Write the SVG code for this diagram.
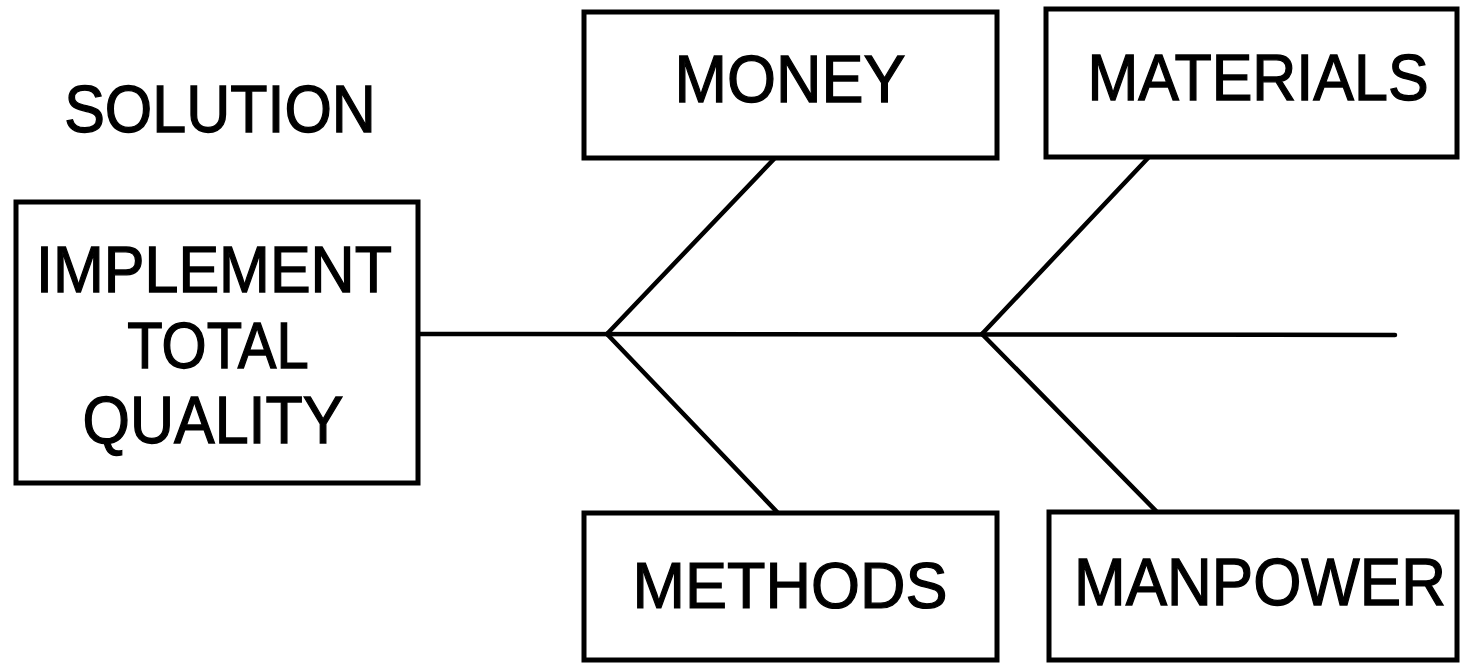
<svg xmlns="http://www.w3.org/2000/svg" width="1463" height="664" viewBox="0 0 1463 664">
<style>
.box{fill:#fff;stroke:#000;stroke-width:5}
.ln{stroke:#000;stroke-width:4.5;fill:none;stroke-linecap:round}
.t{font-family:"Liberation Sans",Arial,sans-serif;fill:#000;stroke:#000;stroke-width:1.2;text-anchor:middle}
</style>
<rect width="1463" height="664" fill="#fff"/>
<g id="connectors">
<line class="ln" x1="418" y1="334" x2="1395" y2="335"/>
<line class="ln" x1="607" y1="334" x2="774" y2="159"/>
<line class="ln" x1="607" y1="334" x2="778" y2="513"/>
<line class="ln" x1="982" y1="334" x2="1148" y2="158"/>
<line class="ln" x1="982" y1="334" x2="1157" y2="512"/>
</g>
<g id="solution-label">
<text class="t" transform="translate(220,132) scale(1,1.08)" font-size="61">SOLUTION</text>
</g>
<g id="implement">
<rect class="box" x="16" y="202" width="402" height="281"/>
<text class="t" transform="translate(214,292) scale(1,1.05)" font-size="61">IMPLEMENT</text>
<text class="t" transform="translate(218,368) scale(1,1.12)" font-size="58">TOTAL</text>
<text class="t" transform="translate(213,443) scale(1,1.08)" font-size="61">QUALITY</text>
</g>
<g id="money">
<rect class="box" x="584" y="12" width="413" height="146"/>
<text class="t" transform="translate(790,102) scale(1,1.05)" font-size="63">MONEY</text>
</g>
<g id="materials">
<rect class="box" x="1046" y="9" width="411" height="148"/>
<text class="t" transform="translate(1258,100) scale(1,1.07)" font-size="61">MATERIALS</text>
</g>
<g id="methods">
<rect class="box" x="584" y="513" width="413" height="147"/>
<text class="t" transform="translate(790,608) scale(1,1.03)" font-size="63">METHODS</text>
</g>
<g id="manpower">
<rect class="box" x="1049" y="512" width="408" height="148"/>
<text class="t" transform="translate(1260,605) scale(1,1.07)" font-size="62">MANPOWER</text>
</g>
</svg>
